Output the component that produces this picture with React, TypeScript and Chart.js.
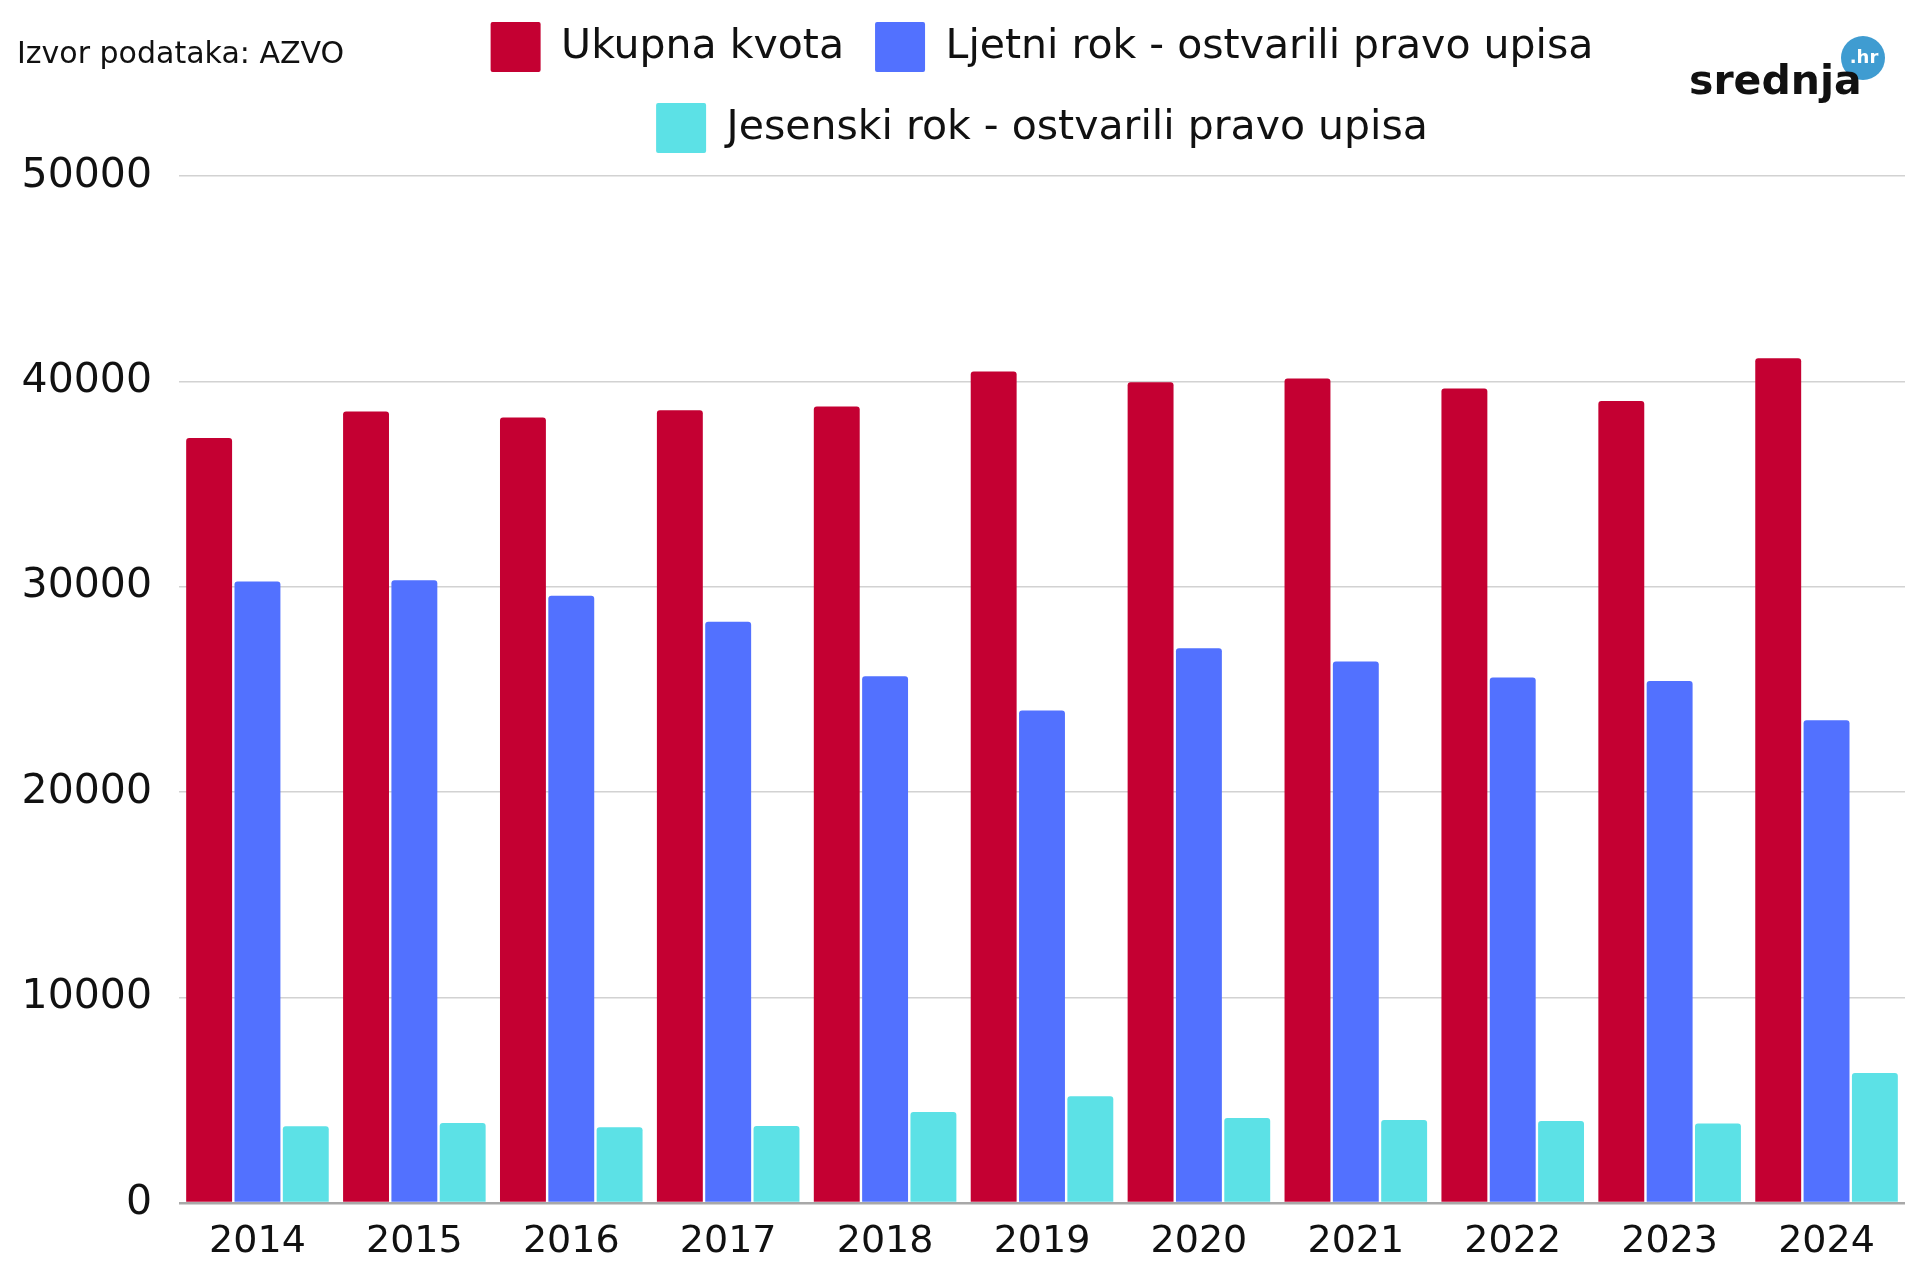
import React, { useEffect, useRef } from 'react';
import { Chart, registerables } from 'chart.js';

Chart.register(...registerables);

const categories = ['2014', '2015', '2016', '2017', '2018', '2019', '2020', '2021', '2022', '2023', '2024'];
const ukupnaKvota = [37240, 38530, 38240, 38600, 38780, 40480, 39960, 40140, 39660, 39040, 41130];
const ljetniRok = [30260, 30320, 29560, 28300, 25640, 23980, 27010, 26360, 25590, 25410, 23500];
const jesenskiRok = [3740, 3900, 3690, 3750, 4430, 5200, 4140, 4040, 3990, 3870, 6330];
const yTicks = [0, 10000, 20000, 30000, 40000, 50000];

const seriesLabels = ['Ukupna kvota', 'Ljetni rok - ostvarili pravo upisa', 'Jesenski rok - ostvarili pravo upisa'];
const seriesColors = ['#c40032', '#5271ff', '#5ce1e6'];
const sourceText = 'Izvor podataka: AZVO';
const logoText = 'srednja';
const logoBadge = '.hr';

const FONT = '"DejaVu Sans", sans-serif';

const legendSpacer = {
  id: 'legendSpacer',
  beforeInit(chart: any) {
    const legend = chart.legend;
    if (!legend) return;
    const origFit = legend.fit;
    legend.fit = function () {
      origFit.call(this);
      this.height += 13;
    };
  },
};

const overlay = {
  id: 'overlay',
  afterDraw(chart: any) {
    const ctx = chart.ctx;
    ctx.save();
    ctx.fillStyle = '#111';
    ctx.font = `30px ${FONT}`;
    ctx.textBaseline = 'middle';
    ctx.textAlign = 'left';
    ctx.fillText(sourceText, 17, 55);

    ctx.beginPath();
    ctx.arc(1863, 58, 22, 0, Math.PI * 2);
    ctx.fillStyle = '#3f9cd1';
    ctx.fill();
    ctx.fillStyle = '#ffffff';
    ctx.font = `bold 18px ${FONT}`;
    ctx.textAlign = 'center';
    ctx.textBaseline = 'middle';
    ctx.fillText(logoBadge, 1864, 58);

    ctx.fillStyle = '#111';
    ctx.font = `bold 41px ${FONT}`;
    ctx.textAlign = 'left';
    ctx.textBaseline = 'alphabetic';
    ctx.fillText(logoText, 1689, 94);
    ctx.restore();
  },
};

export default function App() {
  const canvasRef = useRef<HTMLCanvasElement | null>(null);

  useEffect(() => {
    document.body.style.margin = '0';
    const canvas = canvasRef.current;
    if (!canvas) return;
    const values = [ukupnaKvota, ljetniRok, jesenskiRok];
    const chart = new Chart(canvas, {
      type: 'bar',
      data: {
        labels: categories,
        datasets: values.map((data, i) => ({
          label: seriesLabels[i],
          data,
          backgroundColor: seriesColors[i],
          borderWidth: 0,
          borderRadius: 3,
          categoryPercentage: 0.924,
          barPercentage: 0.95,
        })),
      },
      options: {
        responsive: false,
        animation: false,
        layout: { padding: { top: -9, left: 0, right: 15, bottom: 0 } },
        plugins: {
          tooltip: { enabled: false },
          legend: {
            display: true,
            position: 'top',
            fullSize: false,
            labels: {
              color: '#111',
              font: { family: FONT, size: 41 },
              boxWidth: 50,
              boxHeight: 50,
              padding: 31,
              useBorderRadius: true,
              borderRadius: 2,
            },
          },
        },
        scales: {
          x: {
            grid: { display: false, drawTicks: false },
            border: { display: false },
            ticks: {
              color: '#111',
              font: { family: FONT, size: 38 },
              padding: 16,
              maxRotation: 0,
            },
            afterFit(scale: any) {
              scale.height = 77;
            },
          },
          y: {
            min: 0,
            max: 50000,
            border: { display: false },
            grid: {
              drawTicks: false,
              color: (c: any) => (c.tick && c.tick.value === 0 ? '#a8a8a8' : '#d2d2d2'),
              lineWidth: (c: any) => (c.tick && c.tick.value === 0 ? 2.5 : 1.5),
            },
            afterBuildTicks(scale: any) {
              scale.ticks = yTicks.map((v) => ({ value: v }));
            },
            ticks: {
              color: '#111',
              font: { family: FONT, size: 41 },
              padding: 27,
              callback: (v: any) => String(v),
            },
            afterFit(scale: any) {
              scale.width = 179;
            },
          },
        },
      },
      plugins: [legendSpacer, overlay],
    } as any);
    return () => chart.destroy();
  }, []);

  return (
    <div style={{ width: 1920, height: 1280, background: '#fff' }}>
      <canvas ref={canvasRef} width={1920} height={1280} style={{ display: 'block' }} />
    </div>
  );
}
